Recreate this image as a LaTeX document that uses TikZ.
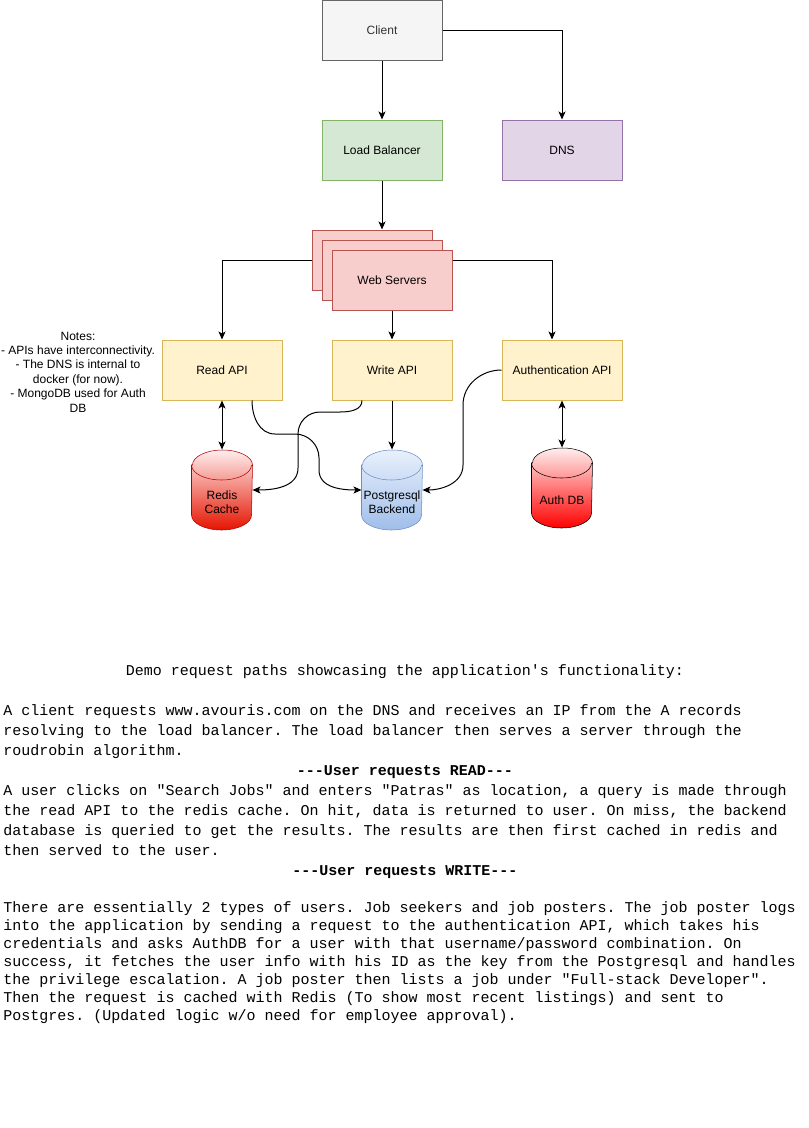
\documentclass[tikz,border=0pt]{standalone}
\usepackage{fontspec}
\setmainfont{Liberation Sans}
\setmonofont{Liberation Mono}
\usetikzlibrary{calc,backgrounds,arrows.meta}

\definecolor{clientfill}{HTML}{F5F5F5}
\definecolor{clientline}{HTML}{666666}
\definecolor{clienttext}{HTML}{333333}
\definecolor{lbfill}{HTML}{D5E8D4}
\definecolor{lbline}{HTML}{82B366}
\definecolor{dnsfill}{HTML}{E1D5E7}
\definecolor{dnsline}{HTML}{9673A6}
\definecolor{wsfill}{HTML}{F8CECC}
\definecolor{wsline}{HTML}{B85450}
\definecolor{apifill}{HTML}{FFF2CC}
\definecolor{apiline}{HTML}{D6B656}
\definecolor{redistop}{HTML}{FFEEEE}
\definecolor{redisbot}{HTML}{E51400}
\definecolor{redisline}{HTML}{B20000}
\definecolor{pgtop}{HTML}{E8F0FC}
\definecolor{pgbot}{HTML}{A0BEEA}
\definecolor{pgline}{HTML}{6C8EBF}
\definecolor{authtop}{HTML}{FFEEEE}
\definecolor{authbot}{HTML}{FF0000}

%Cylinder drawn behind a named database node
\newcommand\dbcyl[4]{% node, top colour, bottom colour, line colour
  \draw[#4,top color=#2,bottom color=#3]
    ($(#1.west)+(0,25)$) -- ($(#1.west)+(0,-25)$)
    arc[start angle=180,end angle=360,x radius=30,y radius=15]
    -- ($(#1.east)+(0,25)$)
    arc[start angle=0,end angle=180,x radius=30,y radius=15] -- cycle;
  \draw[#4] ($(#1.west)+(0,25)$)
    arc[start angle=180,end angle=360,x radius=30,y radius=15];
}

\begin{document}
\begin{tikzpicture}[x=0.75pt,y=0.75pt,line width=0.75pt,
  >={Stealth[length=6pt,width=5.25pt,inset=1.5pt]},
  box/.style={draw,minimum width=90pt,minimum height=45pt,inner sep=0pt,
    font=\fontsize{9pt}{10.8pt}\selectfont},
  db/.style={minimum width=45pt,minimum height=60pt,inner sep=0pt},
  dblabel/.style={align=center,inner sep=0pt,font=\fontsize{9pt}{10.8pt}\selectfont},
  para/.style={anchor=base west,inner sep=0pt,align=left,
    font=\ttfamily\fontsize{11.25pt}{15pt}\selectfont},
  head/.style={anchor=base,inner sep=0pt,
    font=\ttfamily\bfseries\fontsize{11.25pt}{15pt}\selectfont}]

\useasboundingbox (0,0) rectangle (809,-1128);

% Top row
\node[box,fill=clientfill,draw=clientline,text=clienttext] (client) at (382,-30) {Client};
\node[box,fill=lbfill,draw=lbline] (lb) at (382,-150) {Load Balancer};
\node[box,fill=dnsfill,draw=dnsline] (dns) at (562,-150) {DNS};

% Web servers (stacked)
\node[box,fill=wsfill,draw=wsline] (wsback) at (372,-260) {};
\node[box,fill=wsfill,draw=wsline] (wsmid) at (382,-270) {};
\node[box,fill=wsfill,draw=wsline] (ws) at (392,-280) {Web Servers};

% APIs
\node[box,fill=apifill,draw=apiline] (rapi) at (222,-370) {Read API};
\node[box,fill=apifill,draw=apiline] (wapi) at (392,-370) {Write API};
\node[box,fill=apifill,draw=apiline] (aapi) at (562,-370) {Authentication API};

\node[align=center,inner sep=0pt,font=\fontsize{9pt}{10.8pt}\selectfont] (notes) at (78,-372)
  {Notes:\\- APIs have interconnectivity.\\- The DNS is internal to\\docker (for now).\\- MongoDB used for Auth\\DB};

% Databases
\node[db] (redis) at (222,-490) {};
\node[db] (pg) at (392,-490) {};
\node[db] (adb) at (562,-488) {};
\node[dblabel] (redislbl) at ($(redis)+(0,-12)$) {Redis\\Cache};
\node[dblabel] (pglbl) at ($(pg)+(0,-12)$) {Postgresql\\Backend};
\node[dblabel] (adblbl) at ($(adb)+(0,-12)$) {Auth DB};

\begin{scope}[on background layer]
  \dbcyl{redis}{redistop}{redisbot}{redisline}
  \dbcyl{pg}{pgtop}{pgbot}{pgline}
  \dbcyl{adb}{authtop}{authbot}{black}
\end{scope}

% Connectors
\draw[->] (client) -- (lb);
\draw[->] (client.east) -| (dns.north);
\draw[->] (lb.south) -- (lb.south |- wsback.north);
\draw[->] (wsback.west) -| (rapi.north);
\draw[->] (ws.south) -- (wapi.north);
\draw[->] (ws.east |- wsback.west) -| ($(aapi.north)+(-10,0)$);
\draw[<->] (rapi.south) -- (redis.north);
\draw[->] (wapi.south) -- (pg.north);
\draw[<->] (aapi.south) -- (adb.north);

% Curved links
\draw[->] ($(rapi.south)+(30,0)$) to[out=-90,in=180] (275,-434) -- (295,-434)
  to[out=0,in=90] (319,-458) -- (319,-470) to[out=-90,in=180] (pg.west);
\draw[->] ($(wapi.south)+(-30,0)$) to[out=-90,in=0] (340,-412) -- (320,-412)
  to[out=180,in=90] (298,-434) -- (298,-468) to[out=-90,in=0] (redis.east);
\draw[->] (aapi.west) to[out=180,in=90] (463,-405) -- (463,-465)
  to[out=-90,in=0] (pg.east);

% Description text (base anchor = last line)
\node[head,font=\ttfamily\fontsize{11.25pt}{15pt}\selectfont] (title) at (405,-675)
  {Demo request paths showcasing the application's functionality:};
\node[para] (pathdns) at (3,-755)
  {A client requests www.avouris.com on the DNS and receives an IP from the A records\\
   resolving to the load balancer. The load balancer then serves a server through the\\
   roudrobin algorithm.};
\node[head] (readhead) at (405,-775) {---User requests READ---};
\node[para] (pathread) at (3,-855)
  {A user clicks on "Search Jobs" and enters "Patras" as location, a query is made through\\
   the read API to the redis cache. On hit, data is returned to user. On miss, the backend\\
   database is queried to get the results. The results are then first cached in redis and\\
   then served to the user.};
\node[head] (writehead) at (405,-875) {---User requests WRITE---};
\node[para,font=\ttfamily\fontsize{11.25pt}{13.5pt}\selectfont] (pathwrite) at (3,-1020)
  {There are essentially 2 types of users. Job seekers and job posters. The job poster logs\\
   into the application by sending a request to the authentication API, which takes his\\
   credentials and asks AuthDB for a user with that username/password combination. On\\
   success, it fetches the user info with his ID as the key from the Postgresql and handles\\
   the privilege escalation. A job poster then lists a job under "Full-stack Developer".\\
   Then the request is cached with Redis (To show most recent listings) and sent to\\
   Postgres. (Updated logic w/o need for employee approval).};

\end{tikzpicture}
\end{document}
